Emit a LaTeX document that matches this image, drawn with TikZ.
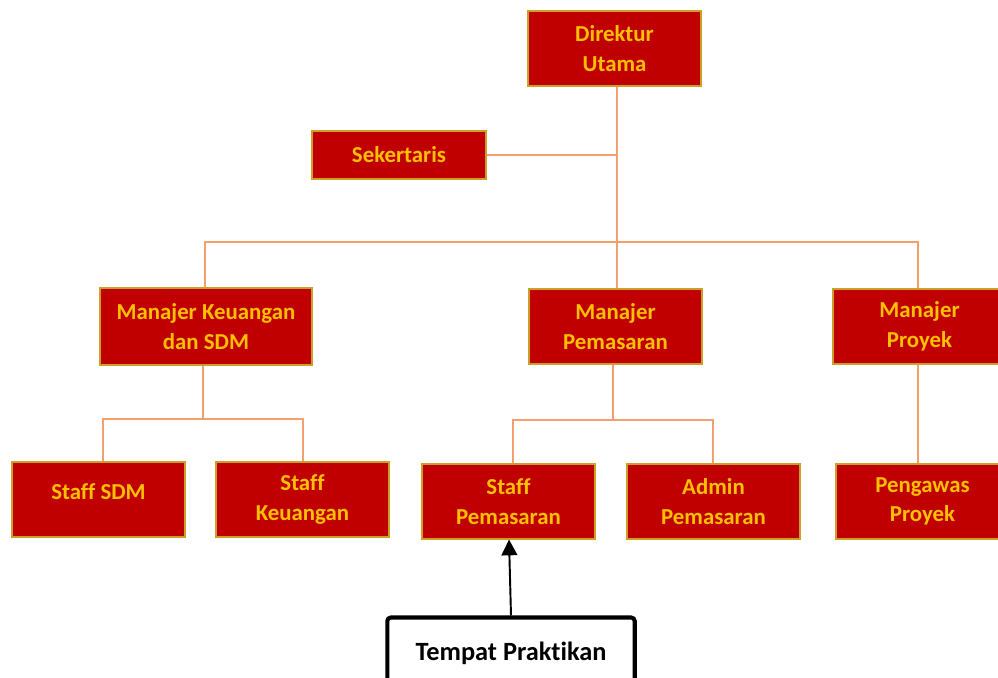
\documentclass[tikz,border=0pt]{standalone}
\usepackage{fontspec}
\setmainfont{Carlito}[Ligatures=CommonOff]
\usepackage{xcolor}
\definecolor{boxred}{RGB}{192, 0, 0}
\definecolor{boxtext}{RGB}{255, 192, 0}
\definecolor{boxedge}{RGB}{204, 160, 40}
\definecolor{linkorange}{RGB}{244, 160, 110}
\usetikzlibrary{arrows.meta}

\begin{document}
\begin{tikzpicture}[x=0.02cm, y=-0.02cm,
		unit/.style={draw=boxedge, line width=0.6pt, fill=boxred, text=boxtext, inner sep=0pt,
			minimum width=3.46cm, minimum height=1.5cm, align=center,
			font=\fontsize{13}{16.8}\selectfont\bfseries},
		link/.style={draw=linkorange, line width=1pt}]
		\useasboundingbox (0,0) rectangle (998,677);
		% pimpinan
		\node[unit] (dir) at (614.5,48.5) {Direktur\\Utama};
		\node[unit, minimum width=3.48cm, minimum height=0.96cm] (sek) at (399,155) {Sekertaris};
		% manajer
		\node[unit, minimum width=4.24cm, minimum height=1.54cm] (mkeu) at (206,326.5) {Manajer Keuangan\\dan SDM};
		\node[unit] (mpem) at (615.5,326.5) {Manajer\\Pemasaran};
		\node[unit] (mpro) at (919.5,326.5) {Manajer\\Proyek};
		% staff
		\node[unit] (ssdm) at (98.5,499.5) {\raisebox{8.5pt}{Staff SDM}};
		\node[unit] (skeu) at (302.5,499.5) {Staff\\Keuangan};
		\node[unit] (spem) at (508.5,501.5) {Staff\\Pemasaran};
		\node[unit] (apem) at (713.5,501.5) {Admin\\Pemasaran};
		\node[unit] (pgw) at (922.5,501.5) {Pengawas\\Proyek};
		% praktik
		\node[draw, line width=2.3pt, rounded corners=2pt, minimum width=4.95cm, minimum height=1.5cm,
			font=\fontsize{15}{18}\selectfont\bfseries] (prak) at (511,655) {\raisebox{4pt}{Tempat Praktikan}};

		% garis
		\coordinate (bus) at (617,242);
		\coordinate (keuj) at (203,419);
		\coordinate (pemj) at (613,420);
		\draw[link] (dir.south -| bus) -- (mpem.north -| bus);
		\draw[link] (sek) -- (sek -| bus);
		\draw[link] (mkeu.north -| 205,0) |- (bus) -| (mpro.north -| 918,0);
		\draw[link] (mkeu.south -| keuj) -- (keuj);
		\draw[link] (ssdm.north -| 103,0) |- (keuj) -| (skeu.north -| 303,0);
		\draw[link] (mpem.south -| pemj) -- (pemj);
		\draw[link] (spem.north -| 513,0) |- (pemj) -| (apem.north -| 713,0);
		\draw[link] (mpro.south -| 918,0) -- (pgw.north -| 918,0);
		\draw[line width=1.1pt, -{Triangle[width=9pt, length=9pt]}] (prak.north -| 511,0) -- (spem.south -| 509,0);
	\end{tikzpicture}
\end{document}
